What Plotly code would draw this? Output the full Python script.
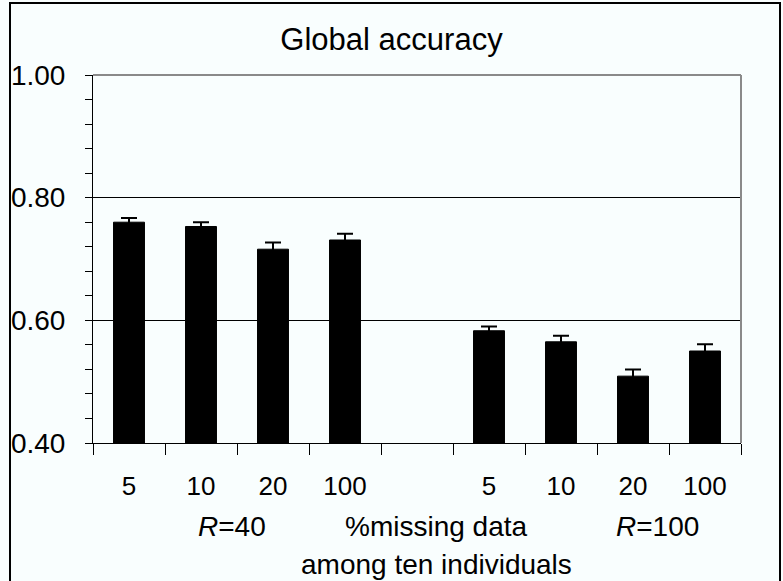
import plotly.graph_objects as go

# ---- data ----
positions = [0, 1, 2, 3, 5, 6, 7, 8]
tick_labels = ["5", "10", "20", "100", "5", "10", "20", "100"]
accuracy = [0.760, 0.753, 0.716, 0.731, 0.583, 0.565, 0.509, 0.550]
errors = [0.007, 0.007, 0.011, 0.010, 0.007, 0.010, 0.011, 0.011]
group_labels = ["<i>R</i>=40", "<i>R</i>=100"]
axis_title_lines = ["%missing data", "among ten individuals"]
chart_title = "Global accuracy"

BG = "#f9fefe"
FONT = "Liberation Sans, Arial, sans-serif"

fig = go.Figure()
fig.add_trace(go.Bar(
    x=positions, y=accuracy, width=0.43,
    marker=dict(color="black", line=dict(color="black", width=1)),
    error_y=dict(type="data", array=errors, visible=True,
                 color="black", thickness=2, width=8),
    showlegend=False,
))

L, R, T, B = 93, 42, 75, 138
W, H = 783, 581
pw, ph = W - L - R, H - T - B

def px_x(px):
    return (px - L) / pw

def px_y(py):
    return (H - B - py) / ph

fig.update_layout(
    width=W, height=H,
    margin=dict(l=L, r=R, t=T, b=B, pad=0),
    paper_bgcolor=BG, plot_bgcolor=BG,
    font=dict(family=FONT, color="black", size=26),
    title=dict(text=chart_title, x=0.5, xref="container", xanchor="center",
               y=1 - 39 / H, yref="container", yanchor="middle",
               font=dict(size=31, family=FONT, color="black")),
    bargap=0.57,
)

fig.update_xaxes(
    range=[-0.5, 8.5], tickmode="array", tickvals=positions, ticktext=tick_labels,
    ticks="", showgrid=False, zeroline=False,
    showline=True, linecolor="black", linewidth=1,
    tickfont=dict(size=26, family=FONT, color="black"),
    ticklabelstandoff=20,
    minor=dict(tick0=-0.5, dtick=1, ticks="outside", ticklen=11,
               tickcolor="black", tickwidth=1, showgrid=False),
)

fig.update_yaxes(
    range=[0.40, 1.00], tickmode="linear", tick0=0.4, dtick=0.2,
    tickformat=".2f", ticks="outside", ticklen=7, tickcolor="black", tickwidth=1,
    showgrid=True, gridcolor="black", gridwidth=1, zeroline=False,
    showline=True, linecolor="black", linewidth=1,
    tickfont=dict(size=28, family=FONT, color="black"),
    ticklabelstandoff=14,
    minor=dict(tick0=0.4, dtick=0.04, ticks="outside", ticklen=7,
               tickcolor="black", tickwidth=1, showgrid=False),
)

# plot frame (top and right in gray)
fig.add_shape(type="line", xref="paper", yref="paper", x0=0, x1=1, y0=1, y1=1,
              line=dict(color="#8a8a8a", width=2), layer="above")
fig.add_shape(type="line", xref="paper", yref="paper", x0=1, x1=1, y0=0, y1=1,
              line=dict(color="#8a8a8a", width=2), layer="above")
# outer chart border
fig.add_shape(type="rect", xref="paper", yref="paper",
              x0=px_x(10), x1=px_x(780), y0=px_y(590), y1=px_y(3),
              line=dict(color="black", width=2), fillcolor="rgba(0,0,0,0)",
              layer="above")

ann_font = dict(size=28, family=FONT, color="black")
fig.add_annotation(text=group_labels[0], x=px_x(232), y=px_y(526), xref="paper", yref="paper",
                   showarrow=False, font=ann_font, xanchor="center", yanchor="middle")
fig.add_annotation(text=axis_title_lines[0], x=px_x(436), y=px_y(526), xref="paper", yref="paper",
                   showarrow=False, font=ann_font, xanchor="center", yanchor="middle")
fig.add_annotation(text=group_labels[1], x=px_x(657), y=px_y(526), xref="paper", yref="paper",
                   showarrow=False, font=ann_font, xanchor="center", yanchor="middle")
fig.add_annotation(text=axis_title_lines[1], x=px_x(436), y=px_y(564), xref="paper", yref="paper",
                   showarrow=False, font=ann_font, xanchor="center", yanchor="middle")

fig.write_html("out.html",
               config={"displayModeBar": False},
               post_script="document.body.style.margin='0';document.body.style.overflow='hidden';")
